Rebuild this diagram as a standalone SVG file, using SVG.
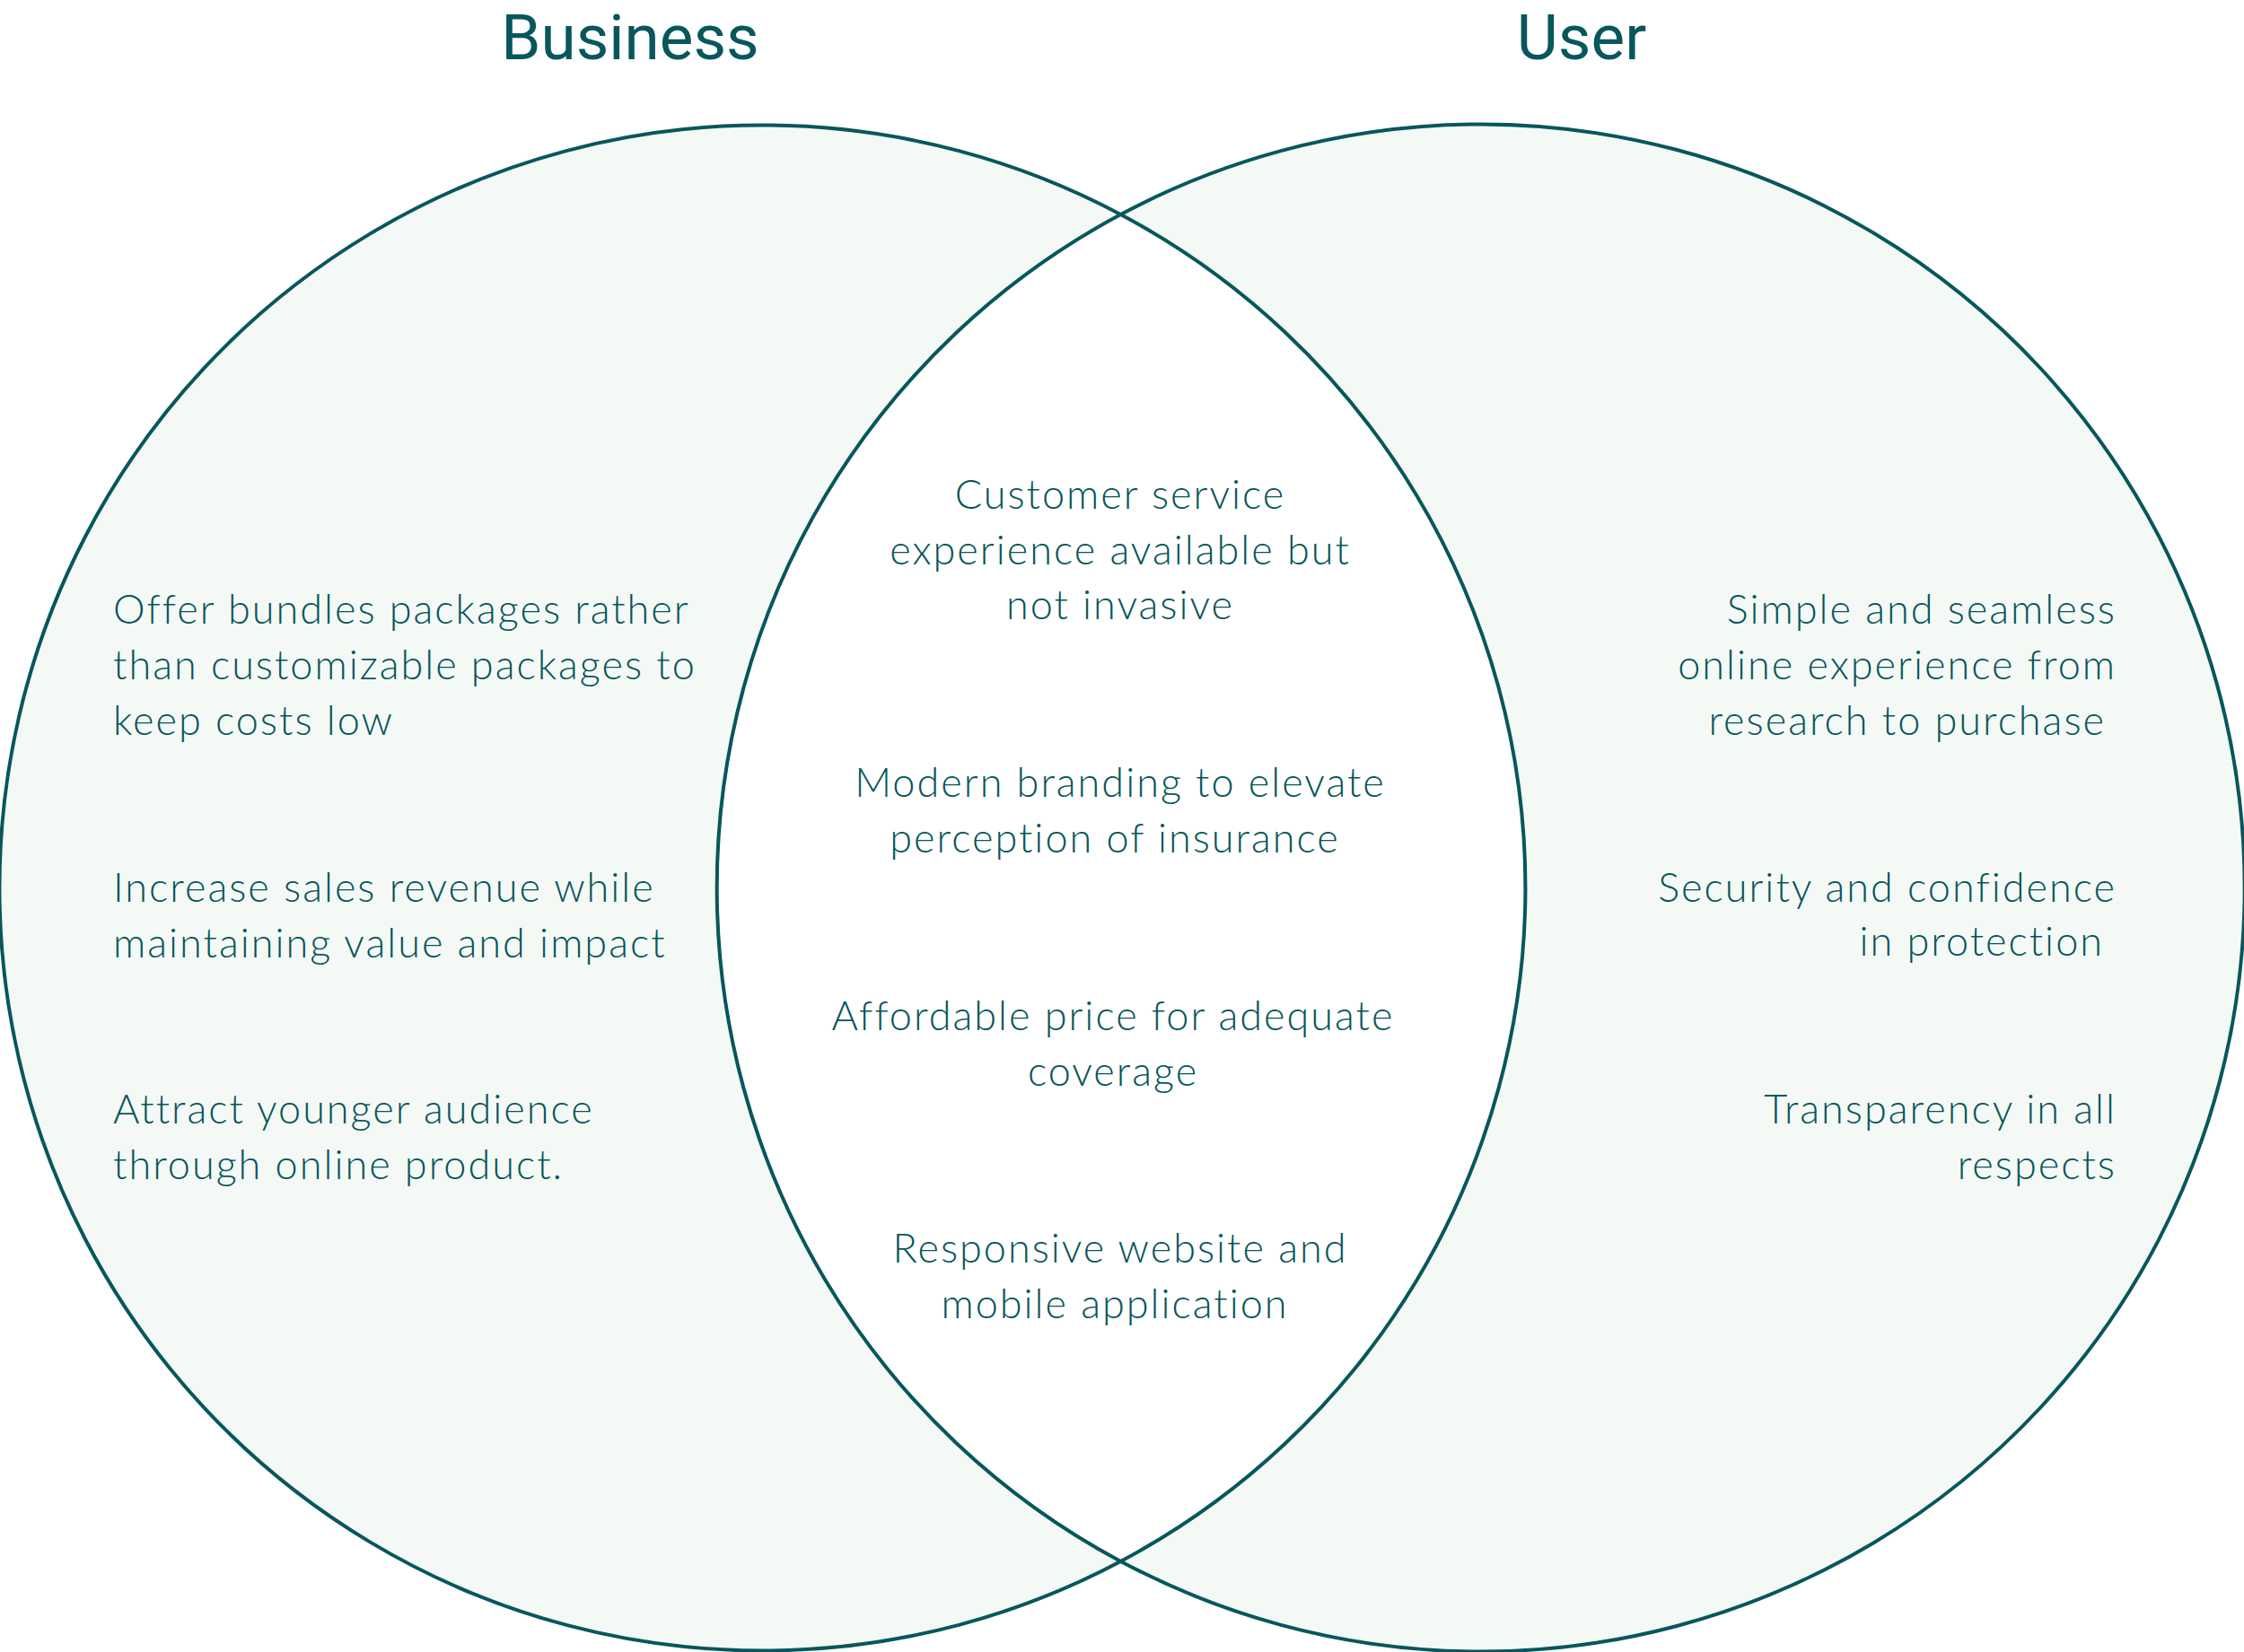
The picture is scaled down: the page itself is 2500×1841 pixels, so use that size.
<svg xmlns="http://www.w3.org/2000/svg" width="2500" height="1841" viewBox="0 0 2500 1841">
<style>
.lune{fill:#F4F9F6;stroke:#07575C;stroke-width:4;stroke-linejoin:round}
.title{font-family:Roboto,"Liberation Sans",sans-serif;font-size:71px;fill:#07575C;text-anchor:middle}
.t{font-family:Lato,"Open Sans","Liberation Sans",sans-serif;font-size:45px;font-weight:300;letter-spacing:2px;fill:#06555A}
.l{text-anchor:start}
.r{text-anchor:end}
.m{text-anchor:middle}
</style>
<rect width="2500" height="1841" fill="#FFFFFF"/>
<g id="connectors"></g>
<g id="business-set">
<path class="lune" d="M1248.5,239 A850,850 0 1,0 1248.5,1740 A851,851 0 0,1 1248.5,239 Z"/>
<text class="title" x="702" y="66">Business</text>
</g>
<g id="user-set">
<path class="lune" d="M1248.5,239 A851,851 0 1,1 1248.5,1740 A850,850 0 0,0 1248.5,239 Z"/>
<text class="title" x="1762" y="66">User</text>
</g>
<g id="business-items">
<text class="t l" x="126" y="695">Offer bundles packages rather</text>
<text class="t l" x="126" y="757">than customizable packages to</text>
<text class="t l" x="126" y="819">keep costs low</text>
<text class="t l" x="126" y="1005">Increase sales revenue while</text>
<text class="t l" x="126" y="1067">maintaining value and impact</text>
<text class="t l" x="126" y="1252">Attract younger audience</text>
<text class="t l" x="126" y="1314">through online product.</text>
</g>
<g id="shared-items">
<text class="t m" x="1248" y="567">Customer service</text>
<text class="t m" x="1248" y="629">experience available but</text>
<text class="t m" x="1248" y="690">not invasive</text>
<text class="t m" x="1248" y="888">Modern branding to elevate</text>
<text class="t m" x="1242" y="950">perception of insurance</text>
<text class="t m" x="1240" y="1148">Affordable price for adequate</text>
<text class="t m" x="1240" y="1210">coverage</text>
<text class="t m" x="1248" y="1407">Responsive website and</text>
<text class="t m" x="1242" y="1469">mobile application</text>
</g>
<g id="user-items">
<text class="t r" x="2358" y="695">Simple and seamless</text>
<text class="t r" x="2358" y="757">online experience from</text>
<text class="t r" x="2346" y="819">research to purchase</text>
<text class="t r" x="2358" y="1005">Security and confidence</text>
<text class="t r" x="2344" y="1065">in protection</text>
<text class="t r" x="2358" y="1252">Transparency in all</text>
<text class="t r" x="2358" y="1314">respects</text>
</g>
</svg>
